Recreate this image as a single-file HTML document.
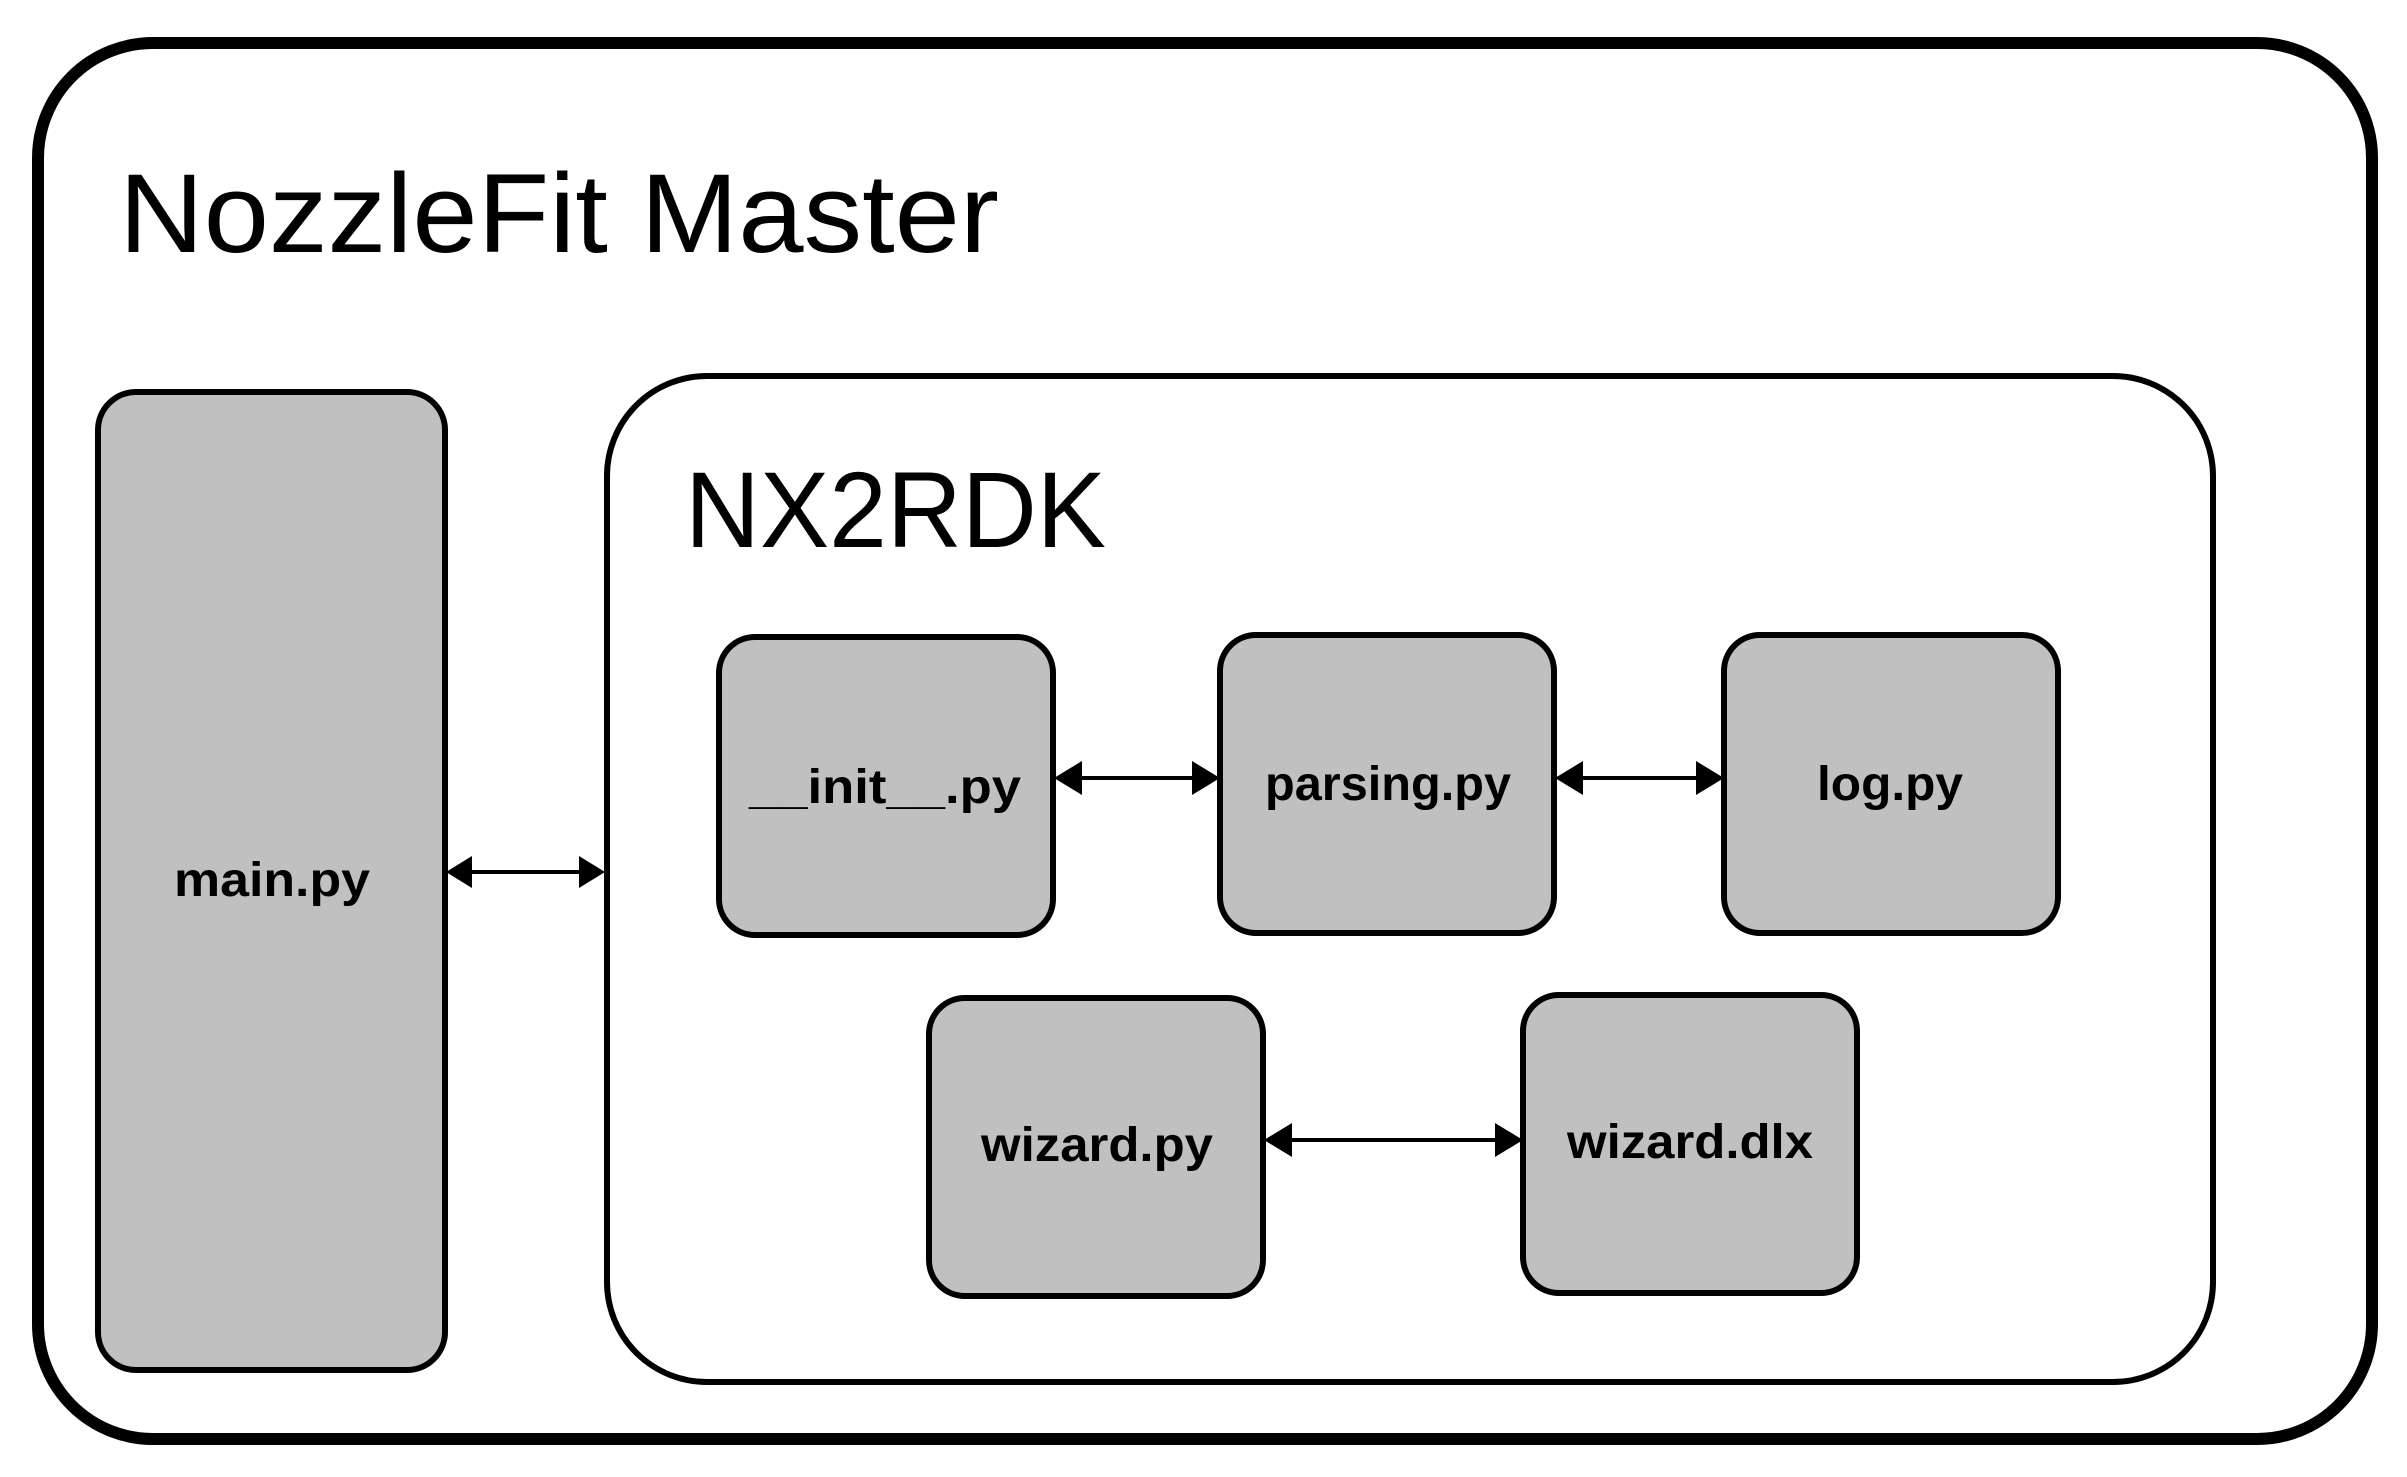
<!DOCTYPE html>
<html><head><meta charset="utf-8"><style>
html,body{margin:0;padding:0;background:#fff;}
svg{display:block;}
text{font-family:"Liberation Sans",sans-serif;fill:#000;}
.b{fill:#c0c0c0;stroke:#000;stroke-width:6;}
.l{font-weight:bold;font-size:48px;}
</style></head><body>
<svg width="2407" height="1477" viewBox="0 0 2407 1477" xmlns="http://www.w3.org/2000/svg">
<rect x="38" y="43" width="2334" height="1396" rx="115" ry="115" fill="#fff" stroke="#000" stroke-width="12"/>
<text x="119" y="252" font-size="112" textLength="880" lengthAdjust="spacingAndGlyphs">NozzleFit Master</text>
<rect x="98" y="392" width="347" height="978" rx="38" class="b"/>
<text class="l" x="272" y="896" text-anchor="middle" textLength="196" lengthAdjust="spacingAndGlyphs">main.py</text>
<rect x="607" y="376" width="1606" height="1006" rx="100" fill="#fff" stroke="#000" stroke-width="6"/>
<text x="685" y="547" font-size="108" textLength="421" lengthAdjust="spacingAndGlyphs">NX2RDK</text>

<rect x="719" y="637" width="334" height="298" rx="36" class="b"/>
<text class="l" x="885" y="803" text-anchor="middle" textLength="272" lengthAdjust="spacingAndGlyphs">__init__.py</text>
<rect x="1220" y="635" width="334" height="298" rx="36" class="b"/>
<text class="l" x="1388" y="800" text-anchor="middle" textLength="246" lengthAdjust="spacingAndGlyphs">parsing.py</text>
<rect x="1724" y="635" width="334" height="298" rx="36" class="b"/>
<text class="l" x="1890" y="800" text-anchor="middle" textLength="146" lengthAdjust="spacingAndGlyphs">log.py</text>
<rect x="929" y="998" width="334" height="298" rx="36" class="b"/>
<text class="l" x="1097" y="1161" text-anchor="middle" textLength="232" lengthAdjust="spacingAndGlyphs">wizard.py</text>
<rect x="1523" y="995" width="334" height="298" rx="36" class="b"/>
<text class="l" x="1690" y="1158" text-anchor="middle" textLength="246" lengthAdjust="spacingAndGlyphs">wizard.dlx</text>

<g stroke="#000" stroke-width="4">
<line x1="470" y1="872" x2="580" y2="872"/>
<line x1="1080" y1="778" x2="1195" y2="778"/>
<line x1="1582" y1="778" x2="1698" y2="778"/>
<line x1="1290" y1="1140" x2="1498" y2="1140"/>
</g>
<g fill="#000">
<polygon points="446,872 472,856 472,888"/><polygon points="605,872 579,856 579,888"/>
<polygon points="1054,778 1082,761 1082,795"/><polygon points="1220,778 1192,761 1192,795"/>
<polygon points="1555,778 1583,761 1583,795"/><polygon points="1724,778 1696,761 1696,795"/>
<polygon points="1264,1140 1292,1123 1292,1157"/><polygon points="1523,1140 1495,1123 1495,1157"/>
</g>
</svg>
</body></html>
